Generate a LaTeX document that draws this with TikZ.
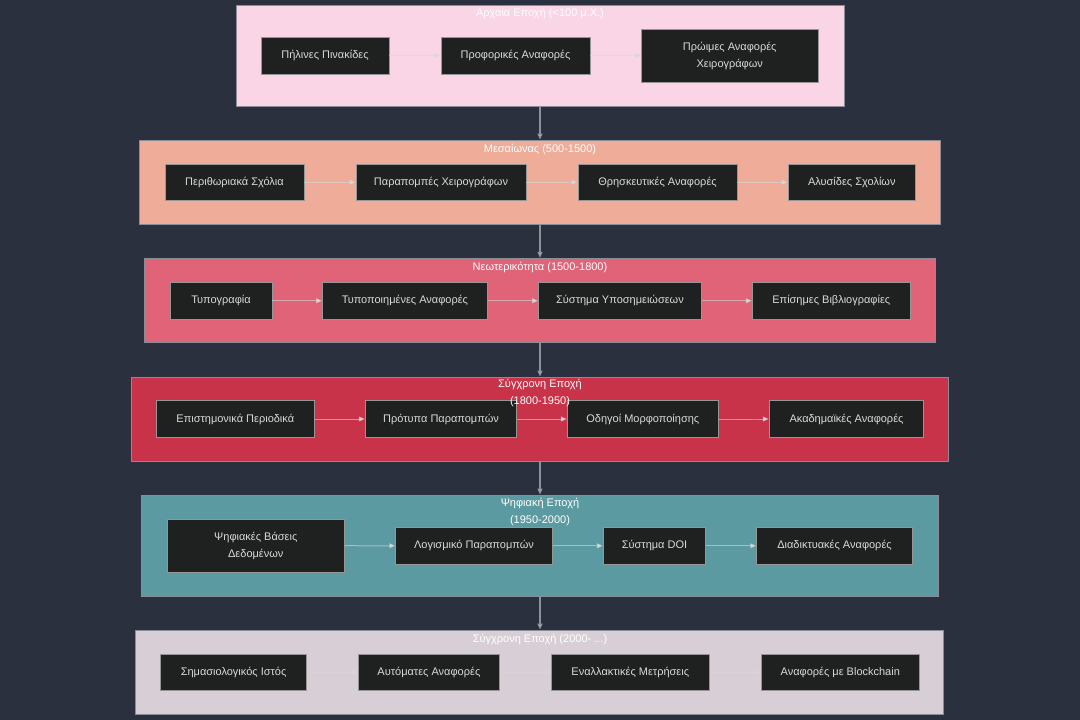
\documentclass[tikz,border=0pt]{standalone}
\usepackage{fontspec}
\setmainfont{Liberation Sans}
\usetikzlibrary{arrows.meta}
\definecolor{bg}{RGB}{42,48,61}
\definecolor{cA}{HTML}{F9D5E5}
\definecolor{cB}{HTML}{EEAC99}
\definecolor{cC}{HTML}{E06377}
\definecolor{cD}{HTML}{C83349}
\definecolor{cE}{HTML}{5B9AA0}
\definecolor{cF}{RGB}{216,206,213}
\definecolor{nodefill}{RGB}{31,32,32}
\definecolor{nodeline}{RGB}{150,150,150}
\definecolor{nodetext}{RGB}{218,218,218}
\definecolor{clline}{RGB}{140,140,150}
\definecolor{edgecol}{RGB}{215,215,215}
\definecolor{vcol}{RGB}{140,145,155}
\tikzset{
  x=1pt, y=-1pt,
  nd/.style={draw=nodeline, fill=nodefill, line width=0.9pt, inner sep=0pt,
    text=nodetext, align=center, font=\fontsize{11}{17}\selectfont},
  cl/.style={draw=clline, line width=0.9pt, inner sep=0pt},
  ttl/.style={text=white, align=center, inner sep=0pt, font=\fontsize{11}{16.7}\selectfont},
  ed/.style={draw=edgecol, draw opacity=0.6, line width=1pt,
    -{Triangle[length=6pt,width=5pt,fill=edgecol]}},
  vd/.style={draw=vcol, line width=1.2pt, -{Triangle[length=6pt,width=5pt,fill=nodetext]}},
}
\begin{document}
\begin{tikzpicture}
\fill[bg] (0,0) rectangle (1080,720);
\useasboundingbox (0,0) rectangle (1080,720);

% cluster 1
\node[cl, fill=cA, minimum width=608pt, minimum height=101pt] (k1) at (540,55.5) {};
\node[ttl] (t1) at (540,13) {Αρχαία Εποχή (<100 μ.Χ.)};
\node[nd, minimum width=128pt, minimum height=37pt] (a1) at (325,55.5) {Πήλινες Πινακίδες};
\node[nd, minimum width=149pt, minimum height=37pt] (a2) at (515.5,55.5) {Προφορικές Αναφορές};
\node[nd, minimum width=176.5pt, minimum height=53pt] (a3) at (729.75,55.5) {Πρώιμες Αναφορές\\Χειρογράφων};
\draw[ed] (a1) -- (a2);
\draw[ed] (a2) -- (a3);

% cluster 2
\node[cl, fill=cB, minimum width=801pt, minimum height=84pt] (k2) at (540,182) {};
\node[ttl] (t2) at (540,149) {Μεσαίωνας (500-1500)};
\node[nd, minimum width=139pt, minimum height=36pt] (b1) at (234.5,182.3) {Περιθωριακά Σχόλια};
\node[nd, minimum width=170pt, minimum height=36pt] (b2) at (441,182.3) {Παραπομπές Χειρογράφων};
\node[nd, minimum width=159pt, minimum height=36pt] (b3) at (657.5,182.3) {Θρησκευτικές Αναφορές};
\node[nd, minimum width=127.6pt, minimum height=36pt] (b4) at (851.8,182.3) {Αλυσίδες Σχολίων};
\draw[ed] (b1) -- (b2);
\draw[ed] (b2) -- (b3);
\draw[ed] (b3) -- (b4);

% cluster 3
\node[cl, fill=cC, minimum width=791pt, minimum height=84.4pt] (k3) at (539.5,300.5) {};
\node[ttl] (t3) at (540,267.3) {Νεωτερικότητα (1500-1800)};
\node[nd, minimum width=102pt, minimum height=37pt] (c1) at (221,300.8) {Τυπογραφία};
\node[nd, minimum width=165pt, minimum height=37pt] (c2) at (405,300.8) {Τυποποιημένες Αναφορές};
\node[nd, minimum width=163pt, minimum height=37pt] (c3) at (620,300.8) {Σύστημα Υποσημειώσεων};
\node[nd, minimum width=158pt, minimum height=37pt] (c4) at (831.3,300.8) {Επίσημες Βιβλιογραφίες};
\draw[ed] (c1) -- (c2);
\draw[ed] (c2) -- (c3);
\draw[ed] (c3) -- (c4);

% cluster 4
\node[cl, fill=cD, minimum width=817.7pt, minimum height=84pt] (k4) at (540,419) {};
\node[nd, minimum width=158pt, minimum height=36.6pt] (d1) at (235.3,419) {Επιστημονικά Περιοδικά};
\node[nd, minimum width=151.4pt, minimum height=36.6pt] (d2) at (441,419) {Πρότυπα Παραπομπών};
\node[nd, minimum width=151pt, minimum height=36.6pt] (d3) at (642.8,419) {Οδηγοί Μορφοποίησης};
\node[nd, minimum width=154.4pt, minimum height=36.6pt] (d4) at (846.5,419) {Ακαδημαϊκές Αναφορές};
\draw[ed] (d1) -- (d2);
\draw[ed] (d2) -- (d3);
\draw[ed] (d3) -- (d4);
\node[ttl] (t4) at (540,393.3) {Σύγχρονη Εποχή\\(1800-1950)};

% cluster 5
\node[cl, fill=cE, minimum width=796.6pt, minimum height=101pt] (k5) at (540,545.5) {};
\node[ttl] (t5) at (540,512.3) {Ψηφιακή Εποχή\\(1950-2000)};
\node[nd, minimum width=177pt, minimum height=52.7pt] (e1) at (255.8,545.7) {Ψηφιακές Βάσεις\\Δεδομένων};
\node[nd, minimum width=156.6pt, minimum height=36.3pt] (e2) at (474,545.8) {Λογισμικό Παραπομπών};
\node[nd, minimum width=102.4pt, minimum height=36.3pt] (e3) at (654.5,545.8) {Σύστημα DOI};
\node[nd, minimum width=155.6pt, minimum height=36.3pt] (e4) at (834.5,545.8) {Διαδικτυακές Αναφορές};
\draw[ed] (e1) -- (e2);
\draw[ed] (e2) -- (e3);
\draw[ed] (e3) -- (e4);

% cluster 6
\node[cl, fill=cF, minimum width=808.6pt, minimum height=84.3pt] (k6) at (539.5,672.2) {};
\node[ttl] (t6) at (540,639) {Σύγχρονη Εποχή (2000- ...)};
\node[nd, minimum width=145.4pt, minimum height=36.3pt] (f1) at (233.6,672.2) {Σημασιολογικός Ιστός};
\node[nd, minimum width=141.8pt, minimum height=36.3pt] (f2) at (428.9,672.2) {Αυτόματες Αναφορές};
\node[nd, minimum width=157.5pt, minimum height=36.3pt] (f3) at (630.3,672.2) {Εναλλακτικές Μετρήσεις};
\node[nd, minimum width=157.9pt, minimum height=36.3pt] (f4) at (840.3,672.2) {Αναφορές με Blockchain};
\draw[ed] (f1) -- (f2);
\draw[ed] (f2) -- (f3);
\draw[ed] (f3) -- (f4);

% vertical connectors
\coordinate (v1) at (540,106);
\coordinate (v2) at (540,224);
\coordinate (v3) at (540,342.7);
\coordinate (v4) at (540,461);
\coordinate (v5) at (540,596);
\draw[vd] (v1) -- (v1 |- k2.north);
\draw[vd] (v2) -- (v2 |- k3.north);
\draw[vd] (v3) -- (v3 |- k4.north);
\draw[vd] (v4) -- (v4 |- k5.north);
\draw[vd] (v5) -- (v5 |- k6.north);
\end{tikzpicture}
\end{document}
